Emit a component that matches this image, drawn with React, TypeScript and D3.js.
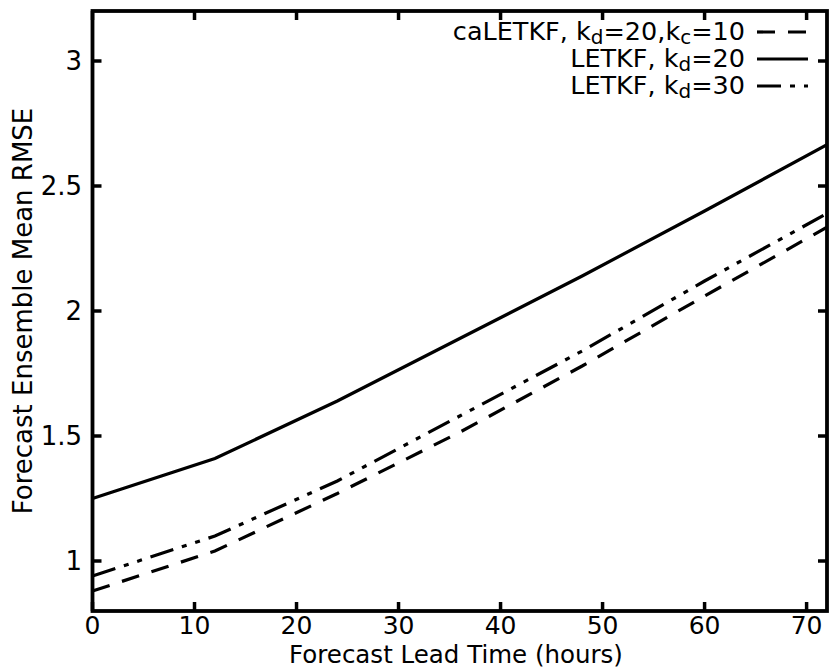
import React from "react";
import * as d3 from "d3";

const leadTimes = [0, 12, 24, 36, 48, 60, 72];
const caLETKF = [0.88, 1.04, 1.27, 1.515, 1.78, 2.06, 2.335];
const letkf20 = [1.25, 1.41, 1.64, 1.89, 2.14, 2.4, 2.665];
const letkf30 = [0.94, 1.1, 1.32, 1.58, 1.84, 2.12, 2.39];
const xTicks = [0, 10, 20, 30, 40, 50, 60, 70];
const yTicks = [1, 1.5, 2, 2.5, 3];

const W = 830;
const H = 668;
const left = 92.5;
const right = 827;
const top = 11;
const bottom = 611;
const font = "DejaVu Sans";
const fs = 26;

export default function App() {
  const x = d3.scaleLinear().domain([0, 72]).range([left, right]);
  const y = d3.scaleLinear().domain([0.8, 3.2]).range([bottom, top]);
  const line = d3
    .line<number>()
    .x((_, i) => x(leadTimes[i]))
    .y((d) => y(d));

  const series = [
    { name: "ca", data: caLETKF, dash: "18,13" },
    { name: "l20", data: letkf20, dash: "" },
    { name: "l30", data: letkf30, dash: "24,9,5,9,5,9" },
  ];

  const legendRows = [
    { dash: "18,13", baseline: 40, parts: [["caLETKF, k", ""], ["d", "sub"], ["=20,k", ""], ["c", "sub"], ["=10", ""]] },
    { dash: "", baseline: 67, parts: [["LETKF, k", ""], ["d", "sub"], ["=20", ""]] },
    { dash: "24,9,5,9,5,9", baseline: 94, parts: [["LETKF, k", ""], ["d", "sub"], ["=30", ""]] },
  ];

  const tickLen = 9;

  return (
    <svg width={W} height={H} style={{ position: "absolute", left: 0, top: 0, background: "#fff" }} fontFamily={font}>
      <rect x={0} y={0} width={W} height={H} fill="#fff" />
      <defs>
        <clipPath id="plot">
          <rect x={left} y={top} width={right - left} height={bottom - top} />
        </clipPath>
      </defs>
      <g clipPath="url(#plot)">
        {series.map((s) => (
          <path
            key={s.name}
            d={line(s.data) || ""}
            fill="none"
            stroke="#000"
            strokeWidth={3.2}
            strokeDasharray={s.dash || undefined}
          />
        ))}
      </g>
      {xTicks.map((t) => (
        <g key={"x" + t}>
          <line x1={x(t)} x2={x(t)} y1={bottom} y2={bottom - tickLen} stroke="#000" strokeWidth={3.5} />
          <line x1={x(t)} x2={x(t)} y1={top} y2={top + tickLen} stroke="#000" strokeWidth={3.5} />
          <text x={x(t)} y={634} textAnchor="middle" fontSize={25}>
            {t}
          </text>
        </g>
      ))}
      {yTicks.map((t) => (
        <g key={"y" + t}>
          <line x1={left} x2={left + tickLen} y1={y(t)} y2={y(t)} stroke="#000" strokeWidth={3.5} />
          <line x1={right} x2={right - tickLen} y1={y(t)} y2={y(t)} stroke="#000" strokeWidth={3.5} />
          <text x={82} y={y(t) + 9} textAnchor="end" fontSize={fs}>
            {t}
          </text>
        </g>
      ))}
      <rect x={left} y={top} width={right - left} height={bottom - top} fill="none" stroke="#000" strokeWidth={3.8} />
      <text x={456} y={662.5} textAnchor="middle" fontSize={24.5}>
        Forecast Lead Time (hours)
      </text>
      <text transform={`translate(32, ${y(2)}) rotate(-90)`} textAnchor="middle" fontSize={fs}>
        Forecast Ensemble Mean RMSE
      </text>
      {legendRows.map((r, i) => (
        <g key={"leg" + i}>
          <text x={745} y={r.baseline} textAnchor="end" fontSize={25.5}>
            {r.parts.map((p, j) =>
              p[1] === "sub" ? (
                <tspan key={j} fontSize={20} dy={4}>
                  {p[0]}
                </tspan>
              ) : (
                <tspan key={j} dy={j > 0 ? -4 : 0}>
                  {p[0]}
                </tspan>
              )
            )}
          </text>
          <line
            x1={757}
            x2={808}
            y1={r.baseline - 8}
            y2={r.baseline - 8}
            stroke="#000"
            strokeWidth={3.2}
            strokeDasharray={r.dash || undefined}
          />
        </g>
      ))}
    </svg>
  );
}
